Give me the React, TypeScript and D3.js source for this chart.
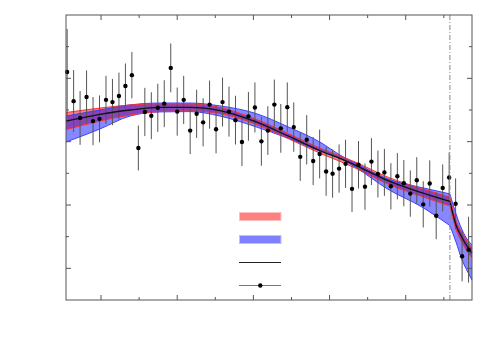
import React from 'react';
import * as d3 from 'd3';

// measured points (x, value, symmetric error)
const pointX = [0.11, 0.28, 0.45, 0.62, 0.79, 0.96, 1.13, 1.30, 1.47, 1.64, 1.81, 1.98, 2.15, 2.32, 2.49, 2.66,
  2.83, 3.00, 3.17, 3.34, 3.51, 3.68, 3.85, 4.02, 4.19, 4.36, 4.53, 4.70, 4.87, 5.04, 5.21, 5.38, 5.55, 5.72,
  5.89, 6.06, 6.23, 6.40, 6.57, 6.74, 6.91, 7.08, 7.25, 7.42, 7.59, 7.76, 7.93, 8.10, 8.27, 8.44, 8.61, 8.78,
  8.95, 9.12, 9.29, 9.46, 9.63, 9.80, 9.97, 10.14, 10.31, 10.48, 10.65];
const pointY = [7.20, 6.28, 5.75, 6.41, 5.65, 5.72, 6.32, 6.25, 6.44, 6.76, 7.10, 4.80, 5.94, 5.82, 6.07, 6.20,
  7.33, 5.95, 6.32, 5.35, 5.88, 5.61, 6.17, 5.39, 6.25, 5.95, 5.68, 4.99, 5.80, 6.08, 5.01, 5.35, 6.17, 5.42,
  6.09, 5.46, 4.52, 5.06, 4.39, 4.61, 4.06, 3.99, 4.15, 4.30, 3.51, 4.27, 3.58, 4.37, 3.98, 4.03, 3.59, 3.91,
  3.69, 3.36, 3.78, 3.02, 3.68, 2.66, 3.54, 3.87, 3.04, 1.38, 1.59];
const pointErr = [1.36, 0.98, 0.85, 0.84, 0.76, 0.74, 0.76, 0.73, 0.74, 0.71, 0.73, 0.71, 0.76, 0.74, 0.76, 0.74,
  0.77, 0.76, 0.76, 0.74, 0.76, 0.76, 0.76, 0.76, 0.77, 0.79, 0.77, 0.76, 0.77, 0.79, 0.77, 0.77, 0.79, 0.77,
  0.78, 0.78, 0.76, 0.78, 0.76, 0.77, 0.77, 0.76, 0.76, 0.76, 0.73, 0.75, 0.73, 0.74, 0.74, 0.74, 0.73, 0.73,
  0.73, 0.73, 0.73, 0.73, 0.73, 0.74, 0.74, 0.79, 0.80, 0.79, 1.04];

// fit curves, sampled at knots; the kink sits at knot index 13
const fitX = [0.08, 0.97, 1.76, 2.55, 3.34, 4.12, 5.04, 5.91, 6.80, 7.27, 7.67, 8.53, 9.42, 10.16, 10.32, 10.47, 10.63, 10.74];
const fitCentral = [5.65, 5.86, 6.00, 6.08, 6.08, 5.98, 5.64, 5.18, 4.69, 4.47, 4.26, 3.77, 3.39, 3.11, 2.37, 1.99, 1.66, 1.48];
const redLo = [5.38, 5.65, 5.84, 5.95, 5.97, 5.89, 5.56, 5.10, 4.61, 4.38, 4.17, 3.66, 3.27, 2.97, 2.23, 1.83, 1.50, 1.33];
const redHi = [5.92, 6.06, 6.16, 6.20, 6.19, 6.08, 5.72, 5.26, 4.77, 4.55, 4.36, 3.88, 3.52, 3.25, 2.51, 2.15, 1.82, 1.64];
const blueLo = [4.99, 5.40, 5.81, 5.94, 5.95, 5.81, 5.48, 5.11, 4.68, 4.48, 4.20, 3.50, 2.94, 2.35, 1.83, 1.29, 0.88, 0.63];
const blueHi = [5.81, 6.00, 6.16, 6.22, 6.22, 6.13, 5.90, 5.47, 4.95, 4.58, 4.33, 3.82, 3.55, 3.35, 2.72, 2.24, 1.89, 1.74];
const kinkIndex = 13;
const kinkX = 10.16;

const xTicks = [1, 2, 3, 4, 5, 6, 7, 8, 9, 10];
const yTicks = [1, 2, 3, 4, 5, 6, 7, 8];

export default function App() {
  const W = 500, H = 350;
  const m = {top: 15, right: 28, bottom: 50, left: 66};
  const x = d3.scaleLinear().domain([0.08, 10.74]).range([m.left, W - m.right]);
  const y = d3.scaleLinear().domain([0, 9]).range([H - m.bottom, m.top]);

  const idx = d3.range(fitX.length);
  const segments = [idx.slice(0, kinkIndex + 1), idx.slice(kinkIndex)];

  const area = (lo: number[], hi: number[]) => d3.area<number>()
    .x(i => x(fitX[i])).y0(i => y(lo[i])).y1(i => y(hi[i]))
    .curve(d3.curveMonotoneX);
  const line = (v: number[]) => d3.line<number>()
    .x(i => x(fitX[i])).y(i => y(v[i]))
    .curve(d3.curveMonotoneX);

  const blueArea = area(blueLo, blueHi);
  const redArea = area(redLo, redHi);

  const x0 = m.left, x1 = W - m.right, y0 = H - m.bottom, y1 = m.top;

  return (
    <svg width={W} height={H} style={{position: 'absolute', left: 0, top: 0, background: '#fff'}}>
      {segments.map((s, k) => (
        <path key={'ra' + k} d={redArea(s) || ''} fill="rgba(255,0,0,0.5)" />
      ))}
      {segments.map((s, k) => (
        <path key={'ba' + k} d={blueArea(s) || ''} fill="rgba(0,0,255,0.47)" />
      ))}
      {segments.map((s, k) => (
        <g key={'el' + k} fill="none" strokeWidth={1}>
          <path d={line(blueLo)(s) || ''} stroke="#4040ff" />
          <path d={line(blueHi)(s) || ''} stroke="#4040ff" />
          <path d={line(redLo)(s) || ''} stroke="#ff3030" />
          <path d={line(redHi)(s) || ''} stroke="#ff3030" />
        </g>
      ))}

      {pointX.map((px, i) => (
        <line key={'e' + i} x1={x(px)} x2={x(px)} y1={y(pointY[i] - pointErr[i])} y2={y(pointY[i] + pointErr[i])}
          stroke="#555" strokeWidth={1} />
      ))}

      {segments.map((s, k) => (
        <path key={'c' + k} d={line(fitCentral)(s) || ''} fill="none" stroke="#111" strokeWidth={1.3} />
      ))}

      {pointX.map((px, i) => (
        <circle key={'p' + i} cx={x(px)} cy={y(pointY[i])} r={2.2} fill="#000" />
      ))}

      <line x1={x(kinkX)} x2={x(kinkX)} y1={y1} y2={y0} stroke="#888" strokeWidth={1} strokeDasharray="5,2,1,2" />

      {/* frame and ticks */}
      <rect x={x0} y={y1} width={x1 - x0} height={y0 - y1} fill="none" stroke="#555" strokeWidth={1} />
      {xTicks.map(t => {
        const len = t % 2 === 1 ? 5 : 3;
        return (
          <g key={'xt' + t} stroke="#555">
            <line x1={x(t)} x2={x(t)} y1={y0} y2={y0 - len} />
            <line x1={x(t)} x2={x(t)} y1={y1} y2={y1 + len} />
          </g>
        );
      })}
      {yTicks.map(t => {
        const len = t % 2 === 1 ? 5 : 3;
        return (
          <g key={'yt' + t} stroke="#555">
            <line x1={x0} x2={x0 + len} y1={y(t)} y2={y(t)} />
            <line x1={x1} x2={x1 - len} y1={y(t)} y2={y(t)} />
          </g>
        );
      })}

      {/* legend */}
      <g>
        <rect x={239.5} y={212.5} width={41.5} height={8} fill="#ff8080" stroke="#ffc0c0" strokeWidth={1} />
        <rect x={239.5} y={235.5} width={41.5} height={8} fill="#8080ff" stroke="#c0c0ff" strokeWidth={1} />
        <line x1={239} x2={281} y1={262.5} y2={262.5} stroke="#222" strokeWidth={1} />
        <line x1={239} x2={281} y1={285.5} y2={285.5} stroke="#777" strokeWidth={1} />
        <circle cx={260.3} cy={285.5} r={2.2} fill="#000" />
      </g>
    </svg>
  );
}
